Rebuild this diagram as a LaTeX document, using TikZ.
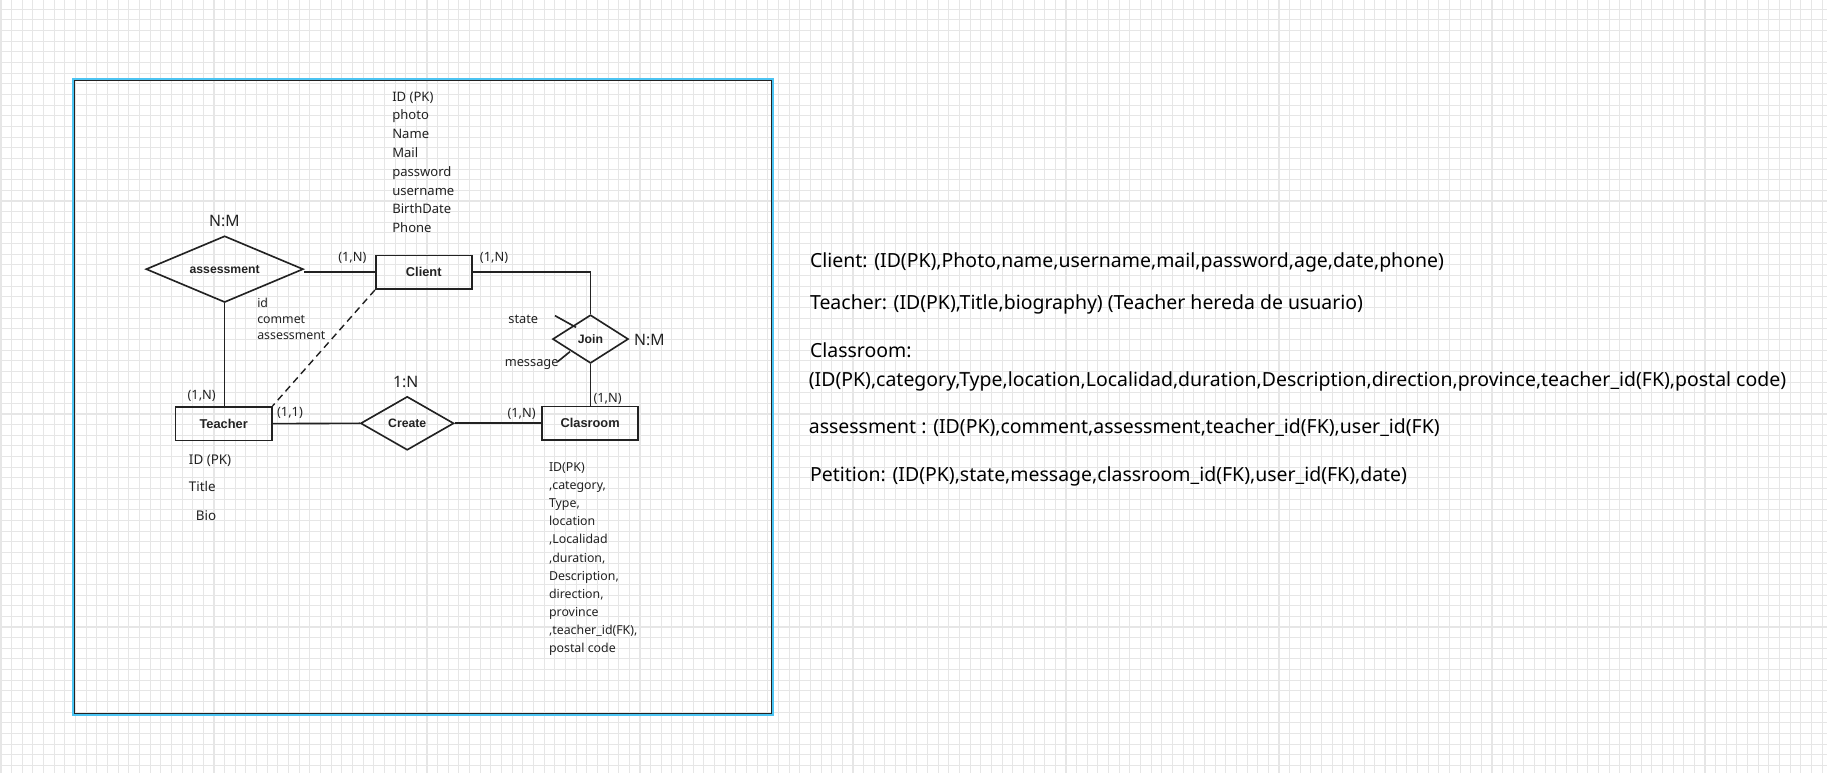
\documentclass[tikz,border=0pt]{standalone}
\usepackage{fontspec}
\setmainfont{Noto Sans}
\newfontfamily\labfont{Liberation Sans}
\usetikzlibrary{shapes.geometric}
\definecolor{gridc}{HTML}{E6E6E6}
\definecolor{framec}{HTML}{4CC4F2}
\definecolor{ink}{HTML}{222222}
\tikzset{
  gridline/.style={draw=gridc, line width=0.9pt},
  ent/.style={draw=ink, line width=1.4pt, minimum width=82.5pt, minimum height=29pt, inner sep=0pt,
    font=\labfont\fontsize{11}{12}\selectfont\bfseries, text=ink},
  rel/.style={draw=ink, line width=1.4pt, shape=diamond, inner sep=0pt,
    font=\labfont\fontsize{10.5}{12}\selectfont\bfseries, text=ink},
  conn/.style={draw=ink, line width=1.4pt},
  lbl/.style={inner sep=0pt, font=\fontsize{11}{13}\selectfont, text=ink},
  big/.style={inner sep=0pt, font=\fontsize{13.5}{15}\selectfont, text=ink},
  attr/.style={inner sep=0pt, anchor=west, text height=1.5ex, text depth=0.25ex, text=ink},
  schema/.style={inner sep=0pt, anchor=west, font=\fontsize{16.7}{20}\selectfont, text=black,
    text height=1.5ex, text depth=0.25ex},
}
\begin{document}
\begin{tikzpicture}[x=1pt, y=-1pt]
\useasboundingbox (0,0) rectangle (1568,663);
% background grid
\fill[white] (0,0) rectangle (1568,663);
\begin{scope}
\clip (0,0) rectangle (1568,663);
\foreach \i in {0,...,172} \draw[gridline] ({0.86+\i*9.14},0) -- ++(0,663);
\foreach \j in {0,...,73} \draw[gridline] (0,{8+\j*9.14}) -- ++(1568,0);
\end{scope}
% frame
\draw[framec, line width=2pt] (62.6,67.6) rectangle (663.4,613.4);
\draw[ink, line width=0.9pt] (63.8,68.8) rectangle (662.2,612.2);

% entities
\node[ent] (client) at (363.7,233.7) {Client};
\node[ent] (teacher) at (192,363.6) {Teacher};
\node[ent] (classroom) at (506.5,363.3) {Clasroom};

% relationships
\node[rel, aspect=2.37, minimum width=135pt, minimum height=57pt] (assess) at (192.8,231) {assessment};
\node[rel, aspect=1.57, minimum width=65pt, minimum height=41.5pt] (join) at (506.8,291) {Join};
\node[rel, aspect=1.74, minimum width=80pt, minimum height=46pt] (create) at (349.5,363.3) {Create};

% connectors
\draw[conn] (assess.east |- client.west) -- (client.west);
\draw[conn] (client.east) -| (join.north);
\draw[conn] (join.south) -- (join.south |- classroom.north);
\draw[conn] (teacher.east) -- (create.west);
\draw[conn] (create.east) -- (classroom.west);
\draw[conn] (assess.south) -- (assess.south |- teacher.north);
\draw[conn, line width=1.2pt, dash pattern=on 6pt off 4pt] (client.south west) -- (teacher.north east);

% attribute ticks on Join
\coordinate (st1) at (476.3,270.9);
\coordinate (st2) at (494.3,280.9);
\coordinate (ms1) at (478.6,310.4);
\coordinate (ms2) at (489.2,301.8);
\draw[conn] (st1) -- (st2);
\draw[conn] (ms1) -- (ms2);
\node[lbl] (lstate) at (449.1,274.3) {state};
\node[lbl] (lmsg) at (456.3,313.2) {message};

% cardinalities
\node[lbl] (c1) at (302.4,221.3) {(1,N)};
\node[lbl] (c2) at (424,221) {(1,N)};
\node[lbl] (c3) at (173.1,339.5) {(1,N)};
\node[lbl] (c4) at (248.9,354.4) {(1,1)};
\node[lbl] (c5) at (447.7,355.2) {(1,N)};
\node[lbl] (c6) at (521.5,342.4) {(1,N)};
\node[big] (r1) at (192.5,190) {N:M};
\node[big] (r2) at (348.2,328) {1:N};
\node[big] (r3) at (557.3,291.7) {N:M};

% client attributes
\foreach \t [count=\i] in {ID (PK),photo,Name,Mail,password,username,BirthDate,Phone}
  \node[attr, font=\fontsize{11.2}{13}\selectfont] (ca\i) at (336.5,{83.4+(\i-1)*16.15}) {\t};

% assessment attributes
\foreach \t [count=\i] in {id,commet,assessment}
  \node[attr, font=\fontsize{10.6}{13}\selectfont] (aa\i) at (220.6,{260.6+(\i-1)*13.9}) {\t};

% teacher attributes
\node[attr, font=\fontsize{11.5}{13}\selectfont] (ta1) at (162,395.5) {ID (PK)};
\node[attr, font=\fontsize{11.5}{13}\selectfont] (ta2) at (162,418.5) {Title};
\node[attr, font=\fontsize{11.5}{13}\selectfont] (ta3) at (168,443.5) {Bio};

% classroom attributes
\foreach \t [count=\i] in {ID(PK),{,category,},{Type,},location,{,Localidad},{,duration,},{Description,},{direction,},province,{,teacher\_id(FK),},postal code}
  \node[attr, font=\fontsize{10.6}{13}\selectfont] (cla\i) at (471,{401.5+(\i-1)*15.5}) {\t};

% relational schema
\node[schema] (s1) at (695,226.5) {Client: (ID(PK),Photo,name,username,mail,password,age,date,phone)};
\node[schema] (s2) at (695,262.5) {Teacher: (ID(PK),Title,biography) (Teacher hereda de usuario)};
\node[schema] (s3) at (695,303.5) {Classroom:};
\node[schema] (s4) at (694,328.5) {(ID(PK),category,Type,location,Localidad,duration,Description,direction,province,teacher\_id(FK),postal code)};
\node[schema] (s5) at (694,368.5) {assessment : (ID(PK),comment,assessment,teacher\_id(FK),user\_id(FK)};
\node[schema] (s6) at (695,409.5) {Petition: (ID(PK),state,message,classroom\_id(FK),user\_id(FK),date)};
\end{tikzpicture}
\end{document}
